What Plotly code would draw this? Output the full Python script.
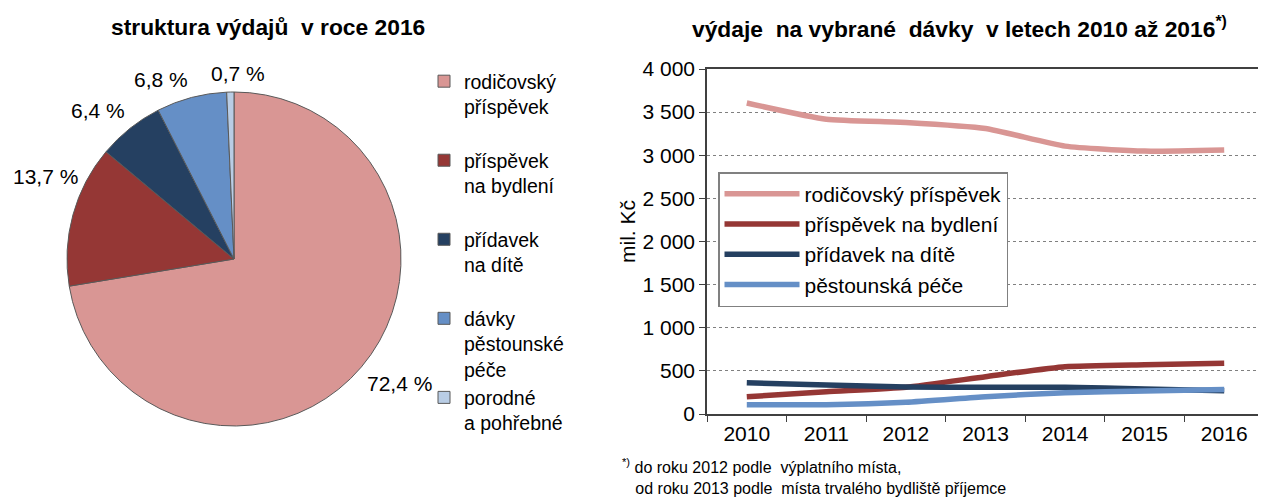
import math
import plotly.graph_objects as go

# ---- data ----
pie_labels = ["rodičovský<br>příspěvek<br> ", "příspěvek<br>na bydlení<br> ", "přídavek<br>na dítě<br> ",
              "dávky<br>pěstounské<br>péče", "porodné<br>a pohřebné"]
pie_values = [72.4, 13.7, 6.4, 6.8, 0.7]
pie_colors = ["#D99694", "#953735", "#254061", "#658FC6", "#B9CDE5"]

years = ["2010", "2011", "2012", "2013", "2014", "2015", "2016"]
series_names = ["rodičovský příspěvek", "příspěvek na bydlení", "přídavek na dítě", "pěstounská péče"]
rodicovsky = [3606, 3418, 3380, 3310, 3106, 3048, 3062]
bydleni = [200, 259, 310, 433, 549, 572, 588]
pridavek = [363, 336, 312, 310, 310, 290, 270]
pestounska = [108, 108, 136, 200, 247, 267, 285]
series_values = [rodicovsky, bydleni, pridavek, pestounska]
line_colors = ["#D99694", "#953735", "#254061", "#658FC6"]
y_ticks = [0, 500, 1000, 1500, 2000, 2500, 3000, 3500, 4000]

W, H = 1266, 500
OFF = 8  # page body margin in the browser
FONT = "Liberation Sans, Arial, sans-serif"


def fx(x):
    return (x - OFF) / W


def fy(y):
    return (H - (y - OFF)) / H


# pie geometry (screen pixels)
PCX, PCY, PR = 234, 259, 167
LABEL_W = 66  # approx. width of a percentage label

fig = go.Figure()

fig.add_trace(go.Pie(
    labels=pie_labels, values=pie_values, sort=False, direction="clockwise", rotation=0,
    marker=dict(colors=pie_colors, line=dict(color="#595959", width=1)),
    textinfo="none",
    domain=dict(x=[fx(PCX - PR), fx(PCX + PR)], y=[fy(PCY + PR), fy(PCY - PR)]),
    legend="legend2", showlegend=True, automargin=False, hoverinfo="label+value",
))

# percentage labels just outside the slices, positioned from the data
total = sum(pie_values)
cum = 0.0
for v in pie_values:
    mid = (cum + v / 2) / total * 2 * math.pi
    cum += v
    sx, cy = math.sin(mid), math.cos(mid)
    dist = PR + 5
    px, py = PCX + dist * sx, PCY - dist * cy
    if abs(sx) < 0.15:
        xa = "center"
        px += 8
    elif sx > 0:
        xa = "left"
    else:
        xa = "right"
        if px < 14 + LABEL_W:
            # keep the label inside the page; slide it up along the rim
            px = 14 + LABEL_W
            py -= 24
    ya = "bottom" if cy > 0 else "top"
    fig.add_annotation(text=f"{v:.1f} %".replace(".", ","), x=fx(px), y=fy(py),
                       xref="paper", yref="paper", xanchor=xa, yanchor=ya,
                       showarrow=False, font=dict(size=21))

for name, vals, col in zip(series_names, series_values, line_colors):
    fig.add_trace(go.Scatter(
        x=years, y=vals, name=name, mode="lines",
        line=dict(color=col, width=5.5, shape="spline", smoothing=0.5),
        xaxis="x", yaxis="y", legend="legend",
    ))

fig.update_layout(
    width=W, height=H, margin=dict(l=0, r=0, t=0, b=0, autoexpand=False),
    paper_bgcolor="white", plot_bgcolor="white",
    separators=", ",
    font=dict(family=FONT, size=21, color="black"),
    xaxis=dict(domain=[fx(707), fx(1264)], type="category", tickson="boundaries",
               range=[-0.5, 6.5],
               ticks="outside", ticklen=6, tickcolor="#404040", showline=True, linecolor="#404040",
               linewidth=1.5, mirror=True, showgrid=False, tickfont=dict(size=21)),
    yaxis=dict(domain=[fy(414), fy(69)], range=[0, 4000], tickvals=y_ticks,
               tickformat=",d", ticks="outside", ticklen=6, tickcolor="#404040",
               showline=True, linecolor="#404040", linewidth=1.5, mirror=True,
               showgrid=True, gridcolor="#808080", griddash="dot", gridwidth=1,
               zeroline=False, tickfont=dict(size=21)),
    legend=dict(x=fx(718), y=fy(172), xanchor="left", yanchor="top",
                bordercolor="#808080", borderwidth=1.5, bgcolor="white",
                font=dict(size=21), itemwidth=75),
    legend2=dict(x=fx(424), y=fy(62), xanchor="left", yanchor="top",
                 font=dict(size=19.5), valign="top", tracegroupgap=0),
    showlegend=True,
)

fig.add_annotation(text="<b>struktura výdajů  v roce 2016</b>", x=fx(268), y=fy(27),
                   xref="paper", yref="paper", xanchor="center", yanchor="middle",
                   showarrow=False, font=dict(size=22.8))
fig.add_annotation(text="<b>výdaje  na vybrané  dávky  v letech 2010 až 2016<sup>*)</sup></b>",
                   x=fx(959), y=fy(27), xref="paper", yref="paper", xanchor="center",
                   yanchor="middle", showarrow=False, font=dict(size=22.8))
fig.add_annotation(text="mil. Kč", textangle=-90, x=fx(628), y=fy(232),
                   xref="paper", yref="paper", xanchor="center", yanchor="middle",
                   showarrow=False, font=dict(size=21))
fig.add_annotation(text="<sup>*)</sup> do roku 2012 podle  výplatního místa,<br>   od roku 2013 podle  místa trvalého bydliště příjemce",
                   x=fx(620), y=fy(499), xref="paper", yref="paper", xanchor="left",
                   yanchor="bottom", align="left", showarrow=False, font=dict(size=16))

fig.write_html("out.html")
